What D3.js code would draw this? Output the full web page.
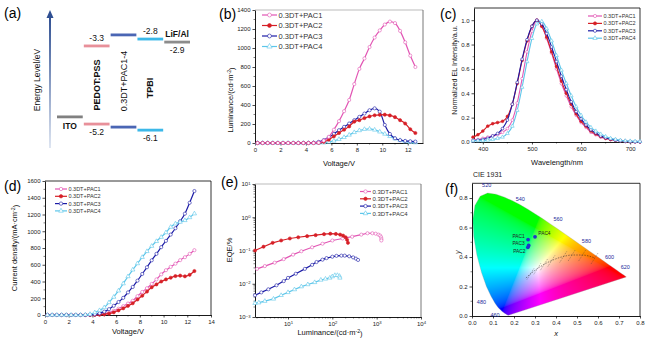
<!DOCTYPE html>
<html><head><meta charset="utf-8">
<script src="https://cdn.jsdelivr.net/npm/d3@7"></script>
<style>body{margin:0;background:#fff}svg{display:block}</style>
</head><body><svg id="c" width="650" height="340"></svg>
<script>
const FONT = "Liberation Sans, Arial, Helvetica, sans-serif";
// ================= DATA =================
const seriesNames = ["0.3DT+PAC1","0.3DT+PAC2","0.3DT+PAC3","0.3DT+PAC4"];
const seriesColors = ["#e256b4","#d61f26","#1b1ba6","#5cc6ea"];

// (a) energy levels (drawn level on a schematic eV axis) and labels
const layerNames = ["ITO","PEDOT:PSS","0.3DT+PAC1-4","TPBI","LiF/Al"];
const layerColors = ["#808080","#e8909a","#4a66b4","#3cb8e8","#8c8c8c"];
const layerUpper = [null,-3.23,-2.83,-2.98,-3.09];
const layerLower = [-5.80,-6.06,-6.17,-6.28,null];
const upperLabels = [null,"-3.3",null,"-2.8","-2.9"];
const lowerLabels = [null,"-5.2",null,"-6.1",null];

// (b),(d) voltage grid
const voltage = [0.2,0.6,1.0,1.4,1.8,2.2,2.6,3.0,3.4,3.8,4.2,4.6,5.0,5.4,5.8,6.2,6.6,7.0,7.4,7.8,8.2,8.6,9.0,9.4,9.8,10.2,10.6,11.0,11.4,11.8,12.2,12.6];
const lumPAC1 = [0,0,0,0,0,0,0,0,0,0,0,0,3,25,65,140,230,335,453,620,780,890,1010,1110,1185,1247,1278,1262,1180,1060,920,800];
const lumPAC2 = [0,0,0,0,0,0,0,0,0,0,0,0,2,12,35,70,105,140,175,225,240,262,280,292,297,298,290,272,240,205,145,105];
const lumPAC3 = [0,0,0,0,0,0,0,0,0,0,0,3,12,30,60,95,135,170,205,240,275,310,345,365,330,190,95,50,30,22,18,15];
const lumPAC4 = [0,0,0,0,0,0,0,0,0,0,0,0,0,3,10,22,40,60,85,112,132,145,148,138,118,95,70,45,28,15,8,5];
const curPAC1 = [0,0,0,0,0,0,0,0,0,1,3,7,15,28,50,75,105,137,170,225,275,320,371,425,485,535,575,613,655,690,730,774];
const curPAC2 = [0,0,0,0,0,0,0,0,0,0.5,2,4,8,16,32,55,80,109,140,185,230,280,331,365,400,425,445,465,470,462,480,525];
const curPAC3 = [0,0,0,0,0,0,0,0,0,3,8,20,40,70,110,155,205,270,335,410,490,570,653,730,810,885,960,1036,1120,1210,1340,1480];
const curPAC4 = [0,0,0,0,0,0,0,0,3,10,30,55,90,150,215,290,375,460,540,615,690,760,823,880,930,985,1050,1090,1110,1130,1165,1210];

// (c) EL spectra
const wavelength = [380,390,400,410,420,430,440,450,460,470,480,490,500,510,520,530,540,550,560,570,580,590,600,610,620,630,640,650,660,670,680,690,700,710,720];
const elPAC1 = [0.02,0.02,0.03,0.04,0.05,0.06,0.08,0.11,0.18,0.32,0.52,0.74,0.91,1.0,0.95,0.85,0.73,0.60,0.48,0.38,0.29,0.22,0.16,0.12,0.08,0.06,0.04,0.03,0.02,0.015,0.01,0.005,0.003,0.002,0.001];
const elPAC2 = [0.04,0.06,0.09,0.13,0.15,0.16,0.17,0.21,0.31,0.48,0.67,0.83,0.95,1.0,0.95,0.86,0.74,0.62,0.50,0.40,0.31,0.23,0.17,0.13,0.09,0.065,0.045,0.03,0.02,0.015,0.01,0.005,0.003,0.002,0.001];
const elPAC3 = [0.01,0.015,0.02,0.03,0.05,0.07,0.11,0.18,0.31,0.49,0.68,0.84,0.95,1.0,0.97,0.89,0.78,0.66,0.54,0.43,0.33,0.25,0.19,0.14,0.10,0.075,0.05,0.035,0.025,0.015,0.01,0.006,0.004,0.002,0.001];
const elPAC4 = [0.01,0.01,0.01,0.015,0.02,0.03,0.04,0.07,0.13,0.26,0.45,0.66,0.85,0.97,0.99,0.93,0.83,0.71,0.59,0.48,0.38,0.29,0.22,0.165,0.12,0.09,0.065,0.045,0.03,0.022,0.015,0.01,0.008,0.006,0.005];

// (e) EQE vs luminance
const eLumPAC1 = [2,3,5,8,13,20,35,60,100,170,280,450,620,800,950,1100,1200,1260,1280,1275];
const eqePAC1  = [0.028,0.034,0.043,0.055,0.075,0.095,0.125,0.16,0.2,0.23,0.26,0.3,0.33,0.33,0.32,0.3,0.28,0.25,0.22,0.2];
const eLumPAC2 = [1.8,2.8,4.5,7,11,17,27,42,65,90,120,150,175,200,215,225];
const eqePAC2  = [0.1,0.13,0.17,0.2,0.23,0.25,0.27,0.29,0.31,0.32,0.315,0.3,0.28,0.25,0.21,0.17];
const eLumPAC3 = [1.8,2.5,3.6,5.5,8,10,15,24,35,44,60,74,100,124,160,190,240,295,340,380];
const eqePAC3  = [0.0045,0.0055,0.0068,0.009,0.012,0.015,0.02,0.028,0.037,0.045,0.053,0.059,0.065,0.069,0.07,0.07,0.067,0.062,0.057,0.052];
const eLumPAC4 = [1.8,2.2,3,4.7,7,10,14,20,28,40,55,70,88,100,114,130,145,148];
const eqePAC4  = [0.0026,0.0027,0.003,0.0035,0.0045,0.0055,0.0067,0.0082,0.0095,0.011,0.013,0.014,0.015,0.0165,0.018,0.018,0.017,0.015];

// (f) CIE 1931 spectral locus
const locusX = [0.1741,0.1714,0.1644,0.1566,0.1440,0.1241,0.1096,0.0913,0.0687,0.0454,0.0235,0.0082,0.0039,0.0139,0.0389,0.0743,0.1142,0.1547,0.1929,0.2296,0.2658,0.3016,0.3373,0.3731,0.4087,0.4441,0.4788,0.5125,0.5448,0.5752,0.6029,0.6270,0.6482,0.6658,0.6915,0.7079,0.7190,0.7260,0.7347];
const locusY = [0.0050,0.0051,0.0109,0.0177,0.0297,0.0578,0.0868,0.1327,0.2007,0.2950,0.4127,0.5384,0.6548,0.7502,0.8120,0.8338,0.8262,0.8059,0.7816,0.7543,0.7243,0.6923,0.6589,0.6245,0.5896,0.5547,0.5202,0.4866,0.4544,0.4242,0.3965,0.3725,0.3514,0.3340,0.3083,0.2920,0.2809,0.2740,0.2653];
const cieLabels = ["520","540","560","580","600","620","480","460"];
const cieLabelX = [0.07,0.23,0.41,0.545,0.655,0.73,0.045,0.11];
const cieLabelY = [0.888,0.792,0.656,0.512,0.398,0.33,0.097,0.008];
const cieNames = ["PAC1","PAC4","PAC3","PAC2"];
const ciePtX = [0.267,0.300,0.270,0.266];
const ciePtY = [0.518,0.537,0.478,0.466];
const cieNameX = [0.222,0.345,0.222,0.225];
const cieNameY = [0.542,0.562,0.494,0.436];
const planckX = [0.2565,0.2807,0.3135,0.3451,0.3805,0.4369,0.4770,0.5267,0.5857];
const planckY = [0.2577,0.2884,0.3237,0.3516,0.3768,0.4041,0.4137,0.4133,0.3931];

// ================= HELPERS =================
const svg = d3.select("#c");
const defs = svg.append("defs");

function txt(g, x, y, s, o={}) {
  return g.append("text").attr("x",x).attr("y",y).attr("font-family",FONT)
    .attr("font-size",o.fs||7).attr("fill",o.fill||"#111")
    .attr("font-weight",o.bold?"bold":"normal").attr("font-style",o.italic?"italic":"normal")
    .attr("text-anchor",o.anchor||"start").text(s);
}
function richText(g, x, y, parts, o={}) {
  const t = g.append("text").attr("font-family",FONT).attr("font-size",o.fs||7).attr("fill","#111")
    .attr("text-anchor","middle");
  if (o.rot) t.attr("transform",`translate(${x},${y}) rotate(-90)`); else t.attr("x",x).attr("y",y);
  let prevSup = false;
  parts.forEach(p=>{
    const sp = t.append("tspan").text(p[0]);
    if (p[1]) { sp.attr("dy","-0.4em").attr("font-size","70%"); prevSup = true; }
    else if (prevSup) { sp.attr("dy","0.4em"); prevSup=false; }
  });
  return t;
}
function axes(g, x, y, o) {
  const fs = o.fs || 6.5;
  const [x0,x1] = x.range(), [y0,y1] = y.range();
  g.append("line").attr("x1",x0).attr("x2",x1).attr("y1",y1).attr("y2",y1).attr("stroke",o.topColor||"#000").attr("stroke-width",0.8);
  g.append("line").attr("x1",x1).attr("x2",x1).attr("y1",y1).attr("y2",y0).attr("stroke",o.rightColor||"#000").attr("stroke-width",0.8);
  const ax = g.append("g").attr("transform",`translate(0,${y0})`)
    .call(d3.axisBottom(x).tickValues(o.xt).tickFormat(o.xf).tickSize(2.5).tickSizeOuter(0).tickPadding(2));
  const ay = g.append("g").attr("transform",`translate(${x0},0)`)
    .call(d3.axisLeft(y).tickValues(o.yt).tickFormat(o.yf).tickSize(2.5).tickSizeOuter(0).tickPadding(2));
  [ax,ay].forEach(a=>{
    a.selectAll("text").attr("font-size",fs).attr("font-family",FONT).attr("fill","#222");
    a.select(".domain").attr("stroke-width",0.9);
    a.selectAll(".tick line").attr("stroke-width",0.7);
  });
  (o.xm||[]).forEach(v=> g.append("line").attr("x1",x(v)).attr("x2",x(v)).attr("y1",y0).attr("y2",y0+1.5).attr("stroke","#000").attr("stroke-width",0.5));
  (o.ym||[]).forEach(v=> g.append("line").attr("y1",y(v)).attr("y2",y(v)).attr("x1",x0).attr("x2",x0-1.5).attr("stroke","#000").attr("stroke-width",0.5));
  return {ax, ay};
}
function supTicks(axisG) {
  axisG.selectAll(".tick text").each(function(d){
    const t = d3.select(this); const e = Math.round(Math.log10(d));
    t.text("10");
    t.append("tspan").attr("dy","-0.45em").attr("font-size","70%").text(e<0?"\u2212"+(-e):e);
  });
}
const markerSym = [d3.symbolCircle, d3.symbolCircle, d3.symbolCircle, d3.symbolTriangle];
const markerFill = ["#fff", null, "#fff", "#fff"];
function drawSeries(g, xs, ys, x, y, i, o={}) {
  const pts = xs.map((v,k)=>[x(v), y(ys[k])]);
  g.append("path").attr("d", d3.line().curve(o.curve||d3.curveMonotoneX)(pts))
    .attr("fill","none").attr("stroke",seriesColors[i]).attr("stroke-width",o.lw||1.2);
  const sym = d3.symbol().type(markerSym[i]).size(o.ms||8);
  g.selectAll(null).data(pts).join("path")
    .attr("transform",p=>`translate(${p[0]},${p[1]})`).attr("d",sym)
    .attr("fill", markerFill[i]||seriesColors[i]).attr("stroke",seriesColors[i]).attr("stroke-width",0.6);
}
function legend(g, x0, y0, dy, len, fs, ms) {
  seriesNames.forEach((n,i)=>{
    const yy = y0 + i*dy;
    g.append("line").attr("x1",x0).attr("x2",x0+len).attr("y1",yy).attr("y2",yy).attr("stroke",seriesColors[i]).attr("stroke-width",1.2);
    g.append("path").attr("transform",`translate(${x0+len/2},${yy})`).attr("d",d3.symbol().type(markerSym[i]).size(ms))
      .attr("fill",markerFill[i]||seriesColors[i]).attr("stroke",seriesColors[i]).attr("stroke-width",0.6);
    txt(g, x0+len+1.5, yy+fs*0.35, n, {fs, fill:"#333"});
  });
}
function panelLabel(x,y,s){ txt(svg,x,y,s,{fs:14,fill:"#000"}); }

// ================= (a) =================
{
  const g = svg.append("g");
  const ey = d3.scaleLinear([-7,-2],[150,12]);
  const bx = d3.scaleBand(layerNames,[57,190]).paddingInner(0.04);
  const grad = defs.append("linearGradient").attr("id","arrowG").attr("x1",0).attr("y1",1).attr("x2",0).attr("y2",0);
  grad.append("stop").attr("offset",0).attr("stop-color","#dfe6f2");
  grad.append("stop").attr("offset",1).attr("stop-color","#2f4f92");
  g.append("rect").attr("x",49).attr("y",ey(-2)+4).attr("width",2).attr("height",ey(-7)-ey(-2)-6).attr("fill","url(#arrowG)");
  g.append("path").attr("d",`M50,${ey(-2)-2} L46.5,${ey(-2)+6} L53.5,${ey(-2)+6} Z`).attr("fill","#2f4f92");
  txt(g,0,0,"Energy Level/eV",{fs:8.5,anchor:"middle"}).attr("transform","translate(40,80) rotate(-90)");
  layerNames.forEach((n,i)=>{
    const x0 = bx(n), w = bx.bandwidth(), xc = x0+w/2;
    [layerUpper[i], layerLower[i]].forEach(v=>{
      if (v==null) return;
      g.append("rect").attr("x",x0).attr("y",ey(v)-1.4).attr("width",w).attr("height",2.8).attr("fill",layerColors[i]);
    });
    if (upperLabels[i]) txt(g, xc, ey(layerUpper[i]) + (i===4 ? 11 : -5), upperLabels[i], {fs:8.5,anchor:"middle"});
    if (lowerLabels[i]) txt(g, xc, ey(layerLower[i]) + 11, lowerLabels[i], {fs:8.5,anchor:"middle"});
  });
  txt(g, bx("ITO")+bx.bandwidth()/2, ey(layerLower[0])+12, "ITO", {fs:8.5,bold:true,anchor:"middle"});
  txt(g, bx("LiF/Al")+bx.bandwidth()/2, ey(layerUpper[4])-5, "LiF/Al", {fs:8.5,bold:true,anchor:"middle"});
  const vName = (n,cy,bold)=> txt(g,0,0,n,{fs:9,bold,anchor:"middle"})
      .attr("transform",`translate(${bx(n)+bx.bandwidth()/2+3},${cy}) rotate(-90)`);
  vName("PEDOT:PSS",85,true);
  vName("0.3DT+PAC1-4",81,false);
  vName("TPBI",88,true);
  panelLabel(4,18,"(a)");
}

// ================= (b) =================
{
  const g = svg.append("g");
  const x = d3.scaleLinear([0,13.2],[255,423]);
  const y = d3.scaleLinear([0,1400],[143,10]);
  axes(g,x,y,{xt:d3.range(0,13,2), yt:d3.range(0,1401,200), xf:d3.format("d"), yf:d3.format("d"),
    xm:d3.range(1,13,2), ym:d3.range(100,1400,200), topColor:"#aaa", rightColor:"#555", fs:6});
  [lumPAC4,lumPAC3,lumPAC2,lumPAC1].forEach((d,k)=> drawSeries(g, voltage, d, x, y, 3-k));
  legend(g, 262, 15, 10.5, 15, 7.5, 12);
  txt(g, 339, 166, "Voltage/V", {fs:7.5, anchor:"middle"});
  richText(g, 233, 100, [["Luminance/(cd\u00b7m"],["-2",true],[")"]], {fs:7.5, rot:true});
  panelLabel(219,19,"(b)");
}

// ================= (c) =================
{
  const g = svg.append("g");
  const x = d3.scaleLinear([382,720],[474,640]);
  const y = d3.scaleLinear([0,1.1],[142,8]);
  axes(g,x,y,{xt:[400,500,600,700], yt:[0,0.2,0.4,0.6,0.8,1.0], xf:d3.format("d"), yf:d3.format(".1f"),
    xm:[450,550,650], ym:[0.1,0.3,0.5,0.7,0.9], fs:6});
  [elPAC1,elPAC2,elPAC3,elPAC4].forEach((d,k)=> drawSeries(g, wavelength, d, x, y, k, {ms:6, lw:1.1}));
  legend(g, 588, 16, 7.4, 14, 5.5, 8);
  txt(g, 557, 165, "Wavelength/nm", {fs:7.5, anchor:"middle"});
  txt(g,0,0,"Normalized EL Intensity/a.u.",{fs:7.2,anchor:"middle"}).attr("transform","translate(457,70) rotate(-90)");
  panelLabel(440,19,"(c)");
}

// ================= (d) =================
{
  const g = svg.append("g");
  const x = d3.scaleLinear([0,14],[45,211]);
  const y = d3.scaleLinear([0,1600],[315,181]);
  axes(g,x,y,{xt:d3.range(0,15,2), yt:d3.range(0,1601,200), xf:d3.format("d"), yf:d3.format("d"),
    xm:d3.range(1,14,2), ym:d3.range(100,1600,200), fs:6});
  [curPAC1,curPAC2,curPAC3,curPAC4].forEach((d,k)=> drawSeries(g, voltage, d, x, y, k));
  legend(g, 55, 189, 7.3, 12, 5.5, 9);
  txt(g, 128, 334, "Voltage/V", {fs:7.5, anchor:"middle"});
  richText(g, 17, 248, [["Current density/(mA\u00b7cm"],["-2",true],[")"]], {fs:7.5, rot:true});
  panelLabel(4,191,"(d)");
}

// ================= (e) =================
{
  const g = svg.append("g");
  const x = d3.scaleLog([1.8,1e4],[255,421]);
  const y = d3.scaleLog([1e-3,10],[317,184]);
  const xm = [], ym = [];
  [1,10,100,1000].forEach(b=> d3.range(2,10).forEach(m=>{ if (b*m>=1.8 && b*m<1e4) xm.push(b*m); }));
  [1e-3,1e-2,1e-1,1].forEach(b=> d3.range(2,10).forEach(m=> ym.push(b*m)));
  const {ax, ay} = axes(g,x,y,{xt:[10,100,1000,10000], yt:[1e-3,1e-2,1e-1,1,10], xf:d=>d, yf:d=>d,
    xm, ym, fs:6, topColor:"#aaa", rightColor:"#555"});
  supTicks(ax); supTicks(ay);
  drawSeries(g, eLumPAC4, eqePAC4, x, y, 3, {curve:d3.curveLinear});
  drawSeries(g, eLumPAC3, eqePAC3, x, y, 2, {curve:d3.curveLinear});
  drawSeries(g, eLumPAC1, eqePAC1, x, y, 0, {curve:d3.curveLinear});
  drawSeries(g, eLumPAC2, eqePAC2, x, y, 1, {curve:d3.curveLinear});
  legend(g, 360, 191.5, 7.3, 11, 6, 9);
  richText(g, 330, 335, [["Luminance/(cd\u00b7m"],["-2",true],[")"]], {fs:7.5});
  txt(g,0,0,"EQE/%",{fs:7.5,anchor:"middle"}).attr("transform","translate(232,250) rotate(-90)");
  panelLabel(221,187,"(e)");
}

// ================= (f) =================
{
  const g = svg.append("g");
  const x = d3.scaleLinear([0,0.8],[472,640]);
  const y = d3.scaleLinear([0,0.9],[316,183.3]);
  const X0 = 472, Y0 = 183, W = 168, H = 133, S = 2;
  const cnv = document.createElement("canvas"); cnv.width = W*S; cnv.height = H*S;
  const ctx = cnv.getContext("2d");
  const img = ctx.createImageData(cnv.width, cnv.height);
  for (let j=0;j<cnv.height;j++) for (let i=0;i<cnv.width;i++) {
    const cx = x.invert(X0+i/S), cy = y.invert(Y0+j/S);
    if (cy <= 0.002) continue;
    const Xc = cx/cy, Yc = 1, Zc = (1-cx-cy)/cy;
    let r = 3.2406*Xc-1.5372*Yc-0.4986*Zc, gg = -0.9689*Xc+1.8758*Yc+0.0415*Zc, b = 0.0557*Xc-0.2040*Yc+1.0570*Zc;
    r=Math.max(r,0); gg=Math.max(gg,0); b=Math.max(b,0);
    const m = Math.max(r,gg,b)||1; r/=m; gg/=m; b/=m;
    const k = (j*cnv.width+i)*4;
    img.data[k] = 255*Math.pow(r,1/2.2); img.data[k+1] = 255*Math.pow(gg,1/2.2); img.data[k+2] = 255*Math.pow(b,1/2.2); img.data[k+3] = 255;
  }
  ctx.putImageData(img,0,0);
  const locusPts = locusX.map((v,k)=>[x(v), y(locusY[k])]);
  const locusD = d3.line()(locusPts) + "Z";
  defs.append("clipPath").attr("id","locusClip").append("path").attr("d",locusD);
  g.append("image").attr("href",cnv.toDataURL()).attr("x",X0).attr("y",Y0).attr("width",W).attr("height",H)
    .attr("preserveAspectRatio","none").attr("clip-path","url(#locusClip)");
  g.append("path").attr("d",locusD).attr("fill","none").attr("stroke","#9a9a9a").attr("stroke-width",0.3);
  g.append("path").attr("d", d3.line().curve(d3.curveMonotoneX)(planckX.map((v,k)=>[x(v),y(planckY[k])])))
    .attr("fill","none").attr("stroke","#222").attr("stroke-width",0.5).attr("stroke-dasharray","1.5,1.2");
  planckX.slice(1).forEach((v,k)=>{
    const px = x(v), py = y(planckY[k+1]);
    g.append("line").attr("x1",px-4).attr("y1",py+6).attr("x2",px+3).attr("y2",py-5)
      .attr("stroke","#333").attr("stroke-width",0.4).attr("stroke-dasharray","1,1");
  });
  axes(g,x,y,{xt:d3.range(0,0.81,0.1), yt:[0,0.2,0.4,0.6,0.8], xf:d3.format(".1f"), yf:d3.format(".1f"), ym:[0.1,0.3,0.5,0.7], fs:6});
  cieLabels.forEach((s,k)=> txt(g, x(cieLabelX[k]), y(cieLabelY[k])+2, s, {fs:5.5, fill:"#1c2a9a", anchor:"middle"}));
  g.selectAll(null).data(ciePtX).join("circle").attr("cx",d=>x(d)).attr("cy",(d,k)=>y(ciePtY[k])).attr("r",1.9).attr("fill","#2233cc");
  cieNames.forEach((s,k)=> txt(g, x(cieNameX[k]), y(cieNameY[k])+1.5, s, {fs:4.8, fill:"#222", anchor:"middle"}));
  txt(g, 473, 177, "CIE 1931", {fs:7, fill:"#222"});
  txt(g, 556, 336, "x", {fs:7.5, italic:true, anchor:"middle"});
  txt(g,0,0,"y",{fs:7.5,italic:true,anchor:"middle"}).attr("transform","translate(460,252) rotate(-90)");
  panelLabel(445,194,"(f)");
}
</script></body></html>
